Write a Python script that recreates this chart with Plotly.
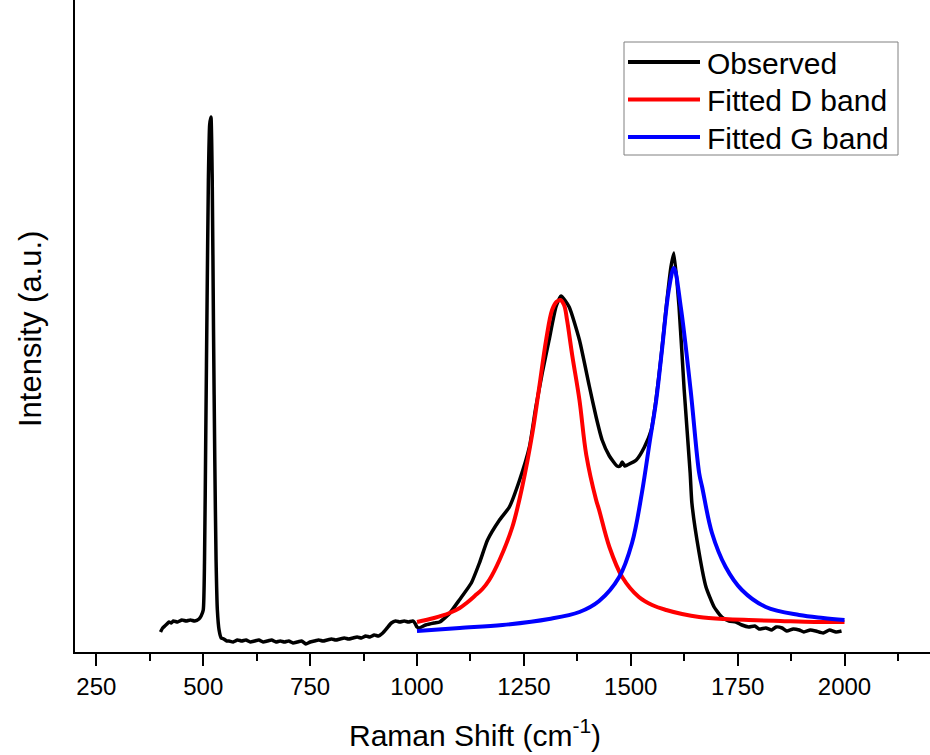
import plotly.graph_objects as go

# Observed Raman spectrum (Raman shift in cm^-1, intensity in arbitrary units)
obs_shift = [400, 405, 410, 415, 420, 425, 430, 440, 450, 460, 470, 480, 490, 495,
             500, 503, 506, 509, 512, 515, 518, 521, 524, 527, 530, 533, 537, 542, 548, 555,
             560, 570, 580, 590, 600, 610, 620, 630, 640, 650, 660, 670, 680, 690, 700,
             710, 720, 730, 740, 750, 760, 770, 780, 790, 800, 810, 820, 830, 840, 850,
             860, 870, 880, 890, 900, 910, 920, 930, 940, 950, 960, 970, 980, 990, 995,
             1000, 1005, 1020, 1040, 1053, 1075, 1099, 1127, 1146, 1165, 1193, 1216, 1240,
             1263, 1278, 1293, 1309, 1325, 1337, 1356, 1380, 1403, 1419, 1433, 1450, 1468,
             1475, 1480, 1486, 1492, 1513, 1532, 1548, 1559, 1571, 1583, 1594, 1601, 1613,
             1625, 1639, 1643, 1660, 1676, 1695, 1713, 1730, 1746, 1760, 1776, 1790, 1800,
             1816, 1830, 1840, 1854, 1865, 1880, 1894, 1905, 1920, 1933, 1950, 1965, 1980,
             1993]
obs_int = [20, 24, 26, 28, 30, 29, 31, 30, 32, 31, 32, 31, 33, 36,
           42, 92, 222, 352, 472, 527, 535, 472, 322, 192, 92, 42, 22, 14, 13, 11,
           11, 10, 12, 11, 12, 10, 11, 12, 10, 11, 12, 10, 11, 10, 11,
           9, 10, 11, 8, 10, 11, 12, 11, 12, 13, 12, 13, 14, 13, 14,
           15, 14, 16, 15, 17, 16, 19, 24, 29, 31, 30, 31, 30, 31, 29,
           25, 24, 27, 29, 30, 38, 52, 69, 89, 112, 132, 145, 172,
           205, 245, 279, 312, 345, 356, 345, 312, 266, 235, 212, 196, 186,
           186, 190, 186, 187, 192, 205, 222, 252, 295, 345, 385, 399, 345,
           262, 179, 149, 99, 65, 45, 35, 31, 30, 27, 25, 26, 23,
           24, 22, 25, 24, 21, 23, 22, 20, 22, 21, 19, 22, 20,
           21]

# Lorentzian fit of the D band
d_shift = [1000, 1040, 1076, 1100, 1116, 1135, 1153, 1169, 1193, 1223, 1246, 1270, 1286,
           1302, 1316, 1326, 1335, 1344, 1351, 1363, 1380, 1396, 1419, 1426, 1450, 1480,
           1519, 1550, 1583, 1620, 1660, 1720, 1776, 1850, 1930, 2000]
d_int = [30, 34, 39, 44, 49, 56, 63, 72, 92, 125, 165, 219, 265,
         312, 342, 350, 352, 347, 332, 297, 252, 197, 152, 142, 105, 75,
         55, 47, 42, 38, 35, 33, 32, 31, 30, 30]

# Lorentzian fit of the G band
g_shift = [1000, 1100, 1200, 1309, 1380, 1426, 1473, 1503, 1526, 1545, 1559, 1573, 1589,
           1601, 1617, 1640, 1660, 1667, 1690, 1722, 1760, 1816, 1894, 1950, 2000]
g_int = [21, 24, 27, 33, 40, 51, 75, 109, 159, 212, 250, 302, 362,
         384, 345, 262, 179, 165, 119, 85, 62, 45, 37, 34, 32]

series_names = ["Observed", "Fitted D band", "Fitted G band"]
series_colors = ["black", "#ff0000", "#0000ff"]

FONT = "Arial, Liberation Sans, sans-serif"
W, H = 930, 755
ML, MR, MT, MB = 75, 0, 0, 103
PW, PH = W - ML - MR, H - MT - MB


def px(xp):
    """Horizontal pixel position -> paper coordinate."""
    return (xp - ML) / PW


def py(yp):
    """Vertical pixel position (from top) -> paper coordinate."""
    return (H - MB - yp) / PH


fig = go.Figure()
fig.add_trace(go.Scatter(x=obs_shift, y=obs_int, mode="lines", name=series_names[0],
                         line=dict(color=series_colors[0], width=3.5,
                                   shape="spline", smoothing=0.5)))
fig.add_trace(go.Scatter(x=d_shift, y=d_int, mode="lines", name=series_names[1],
                         line=dict(color=series_colors[1], width=4, shape="spline")))
fig.add_trace(go.Scatter(x=g_shift, y=g_int, mode="lines", name=series_names[2],
                         line=dict(color=series_colors[2], width=4, shape="spline")))

# Legend box drawn with shapes so the line samples can be long
shapes = [dict(type="rect", xref="paper", yref="paper",
               x0=px(624), x1=px(898), y0=py(155), y1=py(42),
               line=dict(color="#808080", width=1), fillcolor="white", layer="above")]
annotations = []
for i, (name, color) in enumerate(zip(series_names, series_colors)):
    yc = 62 + i * 37.5
    shapes.append(dict(type="line", xref="paper", yref="paper",
                       x0=px(628), x1=px(700), y0=py(yc), y1=py(yc),
                       line=dict(color=color, width=4), layer="above"))
    annotations.append(dict(text=name, xref="paper", yref="paper",
                            x=px(705), y=py(yc + 1), xanchor="left", yanchor="middle",
                            showarrow=False, font=dict(size=30, family=FONT)))

annotations += [
    dict(text="Raman Shift (cm<sup>-1</sup>)", xref="paper", yref="paper",
         x=px(475), y=py(733), xanchor="center", yanchor="middle",
         showarrow=False, font=dict(size=30, family=FONT)),
    dict(text="Intensity (a.u.)", xref="paper", yref="paper",
         x=px(30), y=py(329), xanchor="center", yanchor="middle",
         textangle=-90, showarrow=False, font=dict(size=31, family=FONT)),
]

fig.update_layout(
    width=W, height=H,
    margin=dict(l=ML, r=MR, t=MT, b=MB),
    paper_bgcolor="white", plot_bgcolor="white",
    font=dict(family=FONT, color="black"),
    showlegend=False,
    shapes=shapes,
    annotations=annotations,
    xaxis=dict(range=[200, 2200], showline=True, linecolor="black", linewidth=1.5,
               showgrid=False, zeroline=False,
               tickmode="linear", tick0=250, dtick=250,
               ticks="outside", ticklen=12, tickwidth=1.5, tickcolor="black",
               tickfont=dict(size=24, family=FONT),
               minor=dict(ticks="outside", ticklen=7, tickwidth=1.5, tickcolor="black",
                          dtick=125, tick0=125)),
    yaxis=dict(range=[0, 652], showline=True, linecolor="black", linewidth=1.5,
               showgrid=False, zeroline=False, showticklabels=False, ticks=""),
)

fig.write_html("out.html")
